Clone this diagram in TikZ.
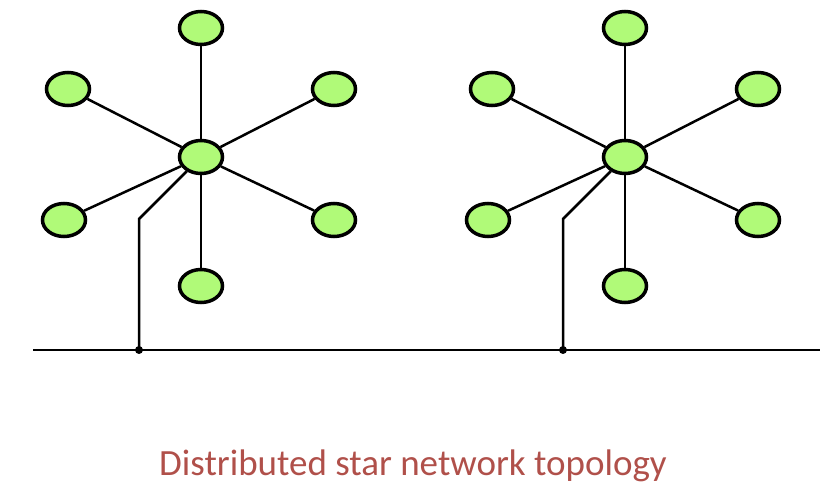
\documentclass[tikz,border=0pt]{standalone}
\usepackage{fontspec}
\setmainfont{Carlito}
\usetikzlibrary{shapes.geometric}
\definecolor{nodegreen}{RGB}{176,250,120}
\definecolor{captionred}{RGB}{176,80,74}
\tikzset{
  station/.style={ellipse, draw=black, line width=3.5pt, fill=nodegreen, minimum width=43pt, minimum height=33pt, inner sep=0pt},
  link/.style={line width=2.5pt, black},
}
\begin{document}
\begin{tikzpicture}[x=1pt,y=-1pt]
\useasboundingbox (0,0) rectangle (838,502);
\foreach \s/\dx/\bx in {L/0/139, R/424/563} {
  \node[station] (\s hub) at (201+\dx,157) {};
  \node[station] (\s t) at (201+\dx,28) {};
  \node[station] (\s ul) at (68+\dx,89) {};
  \node[station] (\s ur) at (334+\dx,89) {};
  \node[station] (\s ll) at (64+\dx,220) {};
  \node[station] (\s lr) at (334+\dx,220) {};
  \node[station] (\s b) at (201+\dx,286) {};
  \coordinate (\s bend) at (\bx,219);
  \coordinate (\s tap) at (\bx,350);
  \draw[link] (\s hub) -- (\s t);
  \draw[link] (\s hub) -- (\s ul);
  \draw[link] (\s hub) -- (\s ur);
  \draw[link] (\s hub) -- (\s ll);
  \draw[link] (\s hub) -- (\s lr);
  \draw[link] (\s hub) -- (\s b);
  \draw[link] (\s hub) -- (\s bend) -- (\s tap);
  \fill (\s tap) circle (4pt);
}
\coordinate (busL) at (33,350);
\coordinate (busR) at (820,350);
\draw[link] (busL) -- (busR);
\node[text=captionred, font=\fontsize{37}{44}\selectfont, inner sep=0pt] (caption) at (413,466) {Distributed star network topology};
\end{tikzpicture}
\end{document}
